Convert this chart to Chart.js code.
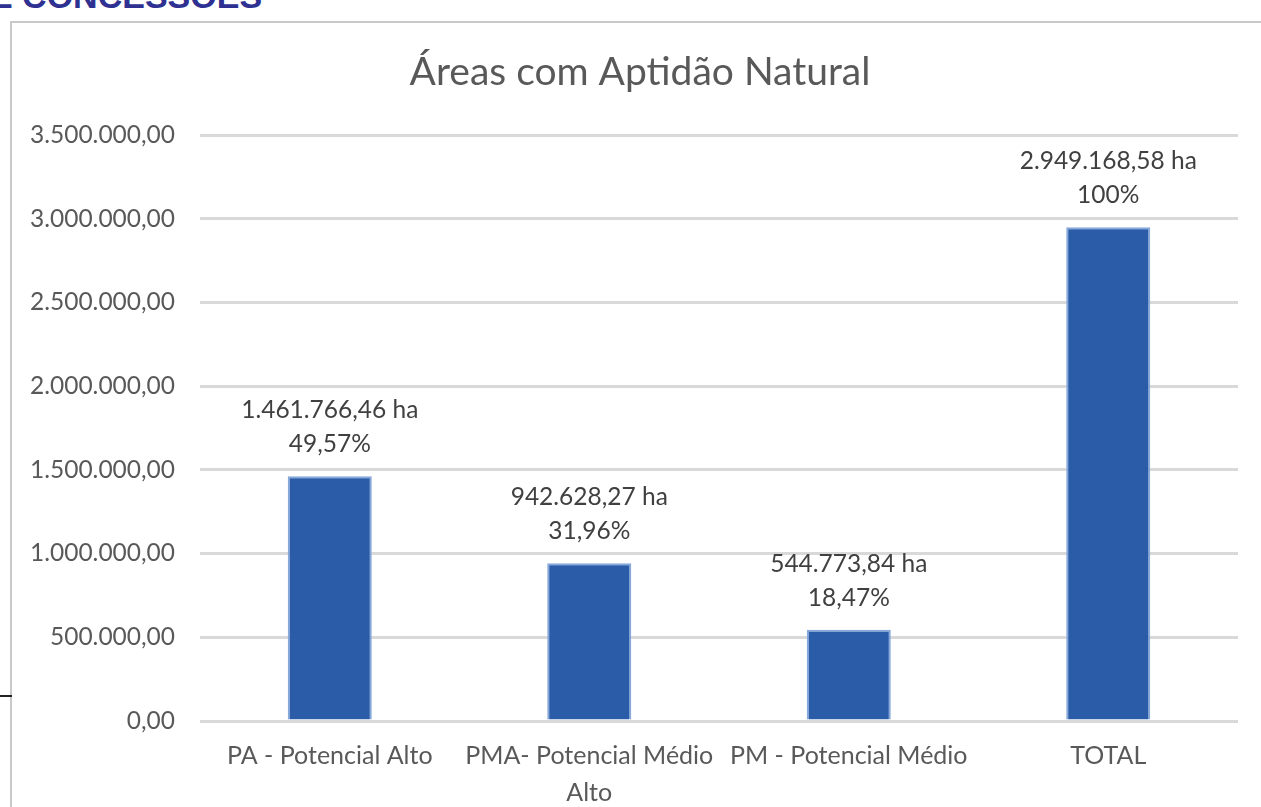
<!DOCTYPE html>
<html>
<head>
<meta charset="utf-8">
<script src="https://cdn.jsdelivr.net/npm/chart.js@4"></script>
<style>
  html, body { margin: 0; padding: 0; background: #fff; overflow: hidden; }
  #heading { position: absolute; left: -10px; top: -21px; font: bold 34px "Liberation Sans", Arial, sans-serif; line-height: 34px; color: #2e3192; white-space: nowrap; }
  #frame { position: absolute; left: 10px; top: 21px; width: 1400px; height: 900px; border-left: 2px solid #c9c9c9; border-top: 2px solid #c9c9c9; }
  #mark { position: absolute; left: 0; top: 695px; width: 12px; height: 2px; background: #222; }
  #wrap { position: absolute; left: 0; top: 0; width: 1261px; height: 807px; }
</style>
</head>
<body>
<div id="heading">E CONCESSÕES</div>
<div id="frame"></div>
<div id="mark"></div>
<div id="wrap"><canvas id="myChart" width="1261" height="807"></canvas></div>
<script>
// dados do gráfico
const categorias = ['PA - Potencial Alto', ['PMA- Potencial Médio', 'Alto'], 'PM - Potencial Médio', 'TOTAL'];
const areas = [1461766.46, 942628.27, 544773.84, 2949168.58];
const rotulosArea = ['1.461.766,46 ha', '942.628,27 ha', '544.773,84 ha', '2.949.168,58 ha'];
const rotulosPercentual = ['49,57%', '31,96%', '18,47%', '100%'];

const fonte = 'Lato, "Open Sans", sans-serif';

function formatarNumero(v) {
    const partes = v.toFixed(2).split('.');
    partes[0] = partes[0].replace(/\B(?=(\d{3})+(?!\d))/g, '.');
    return partes.join(',');
}

// rótulos de duas linhas acima das barras
const rotulosBarras = {
    id: 'rotulosBarras',
    afterLayout(chart) {
        // título centrado no quadro, não só na área útil
        if (chart.titleBlock) chart.titleBlock.left = 42;
    },
    afterDatasetsDraw(chart) {
        const ctx = chart.ctx;
        const meta = chart.getDatasetMeta(0);
        ctx.save();
        ctx.fillStyle = '#404040';
        ctx.font = '24.5px ' + fonte;
        ctx.textAlign = 'center';
        ctx.textBaseline = 'alphabetic';
        meta.data.forEach((barra, i) => {
            ctx.fillText(rotulosPercentual[i], barra.x, barra.y - 24);
            ctx.fillText(rotulosArea[i], barra.x, barra.y - 58);
        });
        ctx.restore();
    }
};

const ctx = document.getElementById('myChart').getContext('2d');
const myChart = new Chart(ctx, {
    type: 'bar',
    data: {
        labels: categorias,
        datasets: [{
            label: 'Área (ha)',
            data: areas,
            backgroundColor: '#2b5ca8',
            borderColor: '#86a9dc', // borda clara
            borderWidth: 2,
            categoryPercentage: 1,
            barPercentage: 0.324
        }]
    },
    options: {
        responsive: false,
        animation: false,
        layout: { padding: { left: 0, right: 23, top: 0, bottom: 0 } },
        plugins: {
            legend: { display: false },
            tooltip: { enabled: false },
            title: {
                display: true,
                text: 'Áreas com Aptidão Natural',
                color: '#595959',
                font: { family: fonte, size: 39, weight: 'normal', lineHeight: 1.2 },
                padding: { top: 48.6, bottom: 39.6 }
            }
        },
        scales: {
            x: {
                grid: { display: false },
                border: { display: false },
                ticks: {
                    color: '#595959',
                    font: { family: fonte, size: 25, lineHeight: 1.5 },
                    padding: 8,
                    maxRotation: 0,
                    autoSkip: false
                },
                afterFit(scale) { scale.height = 86; }
            },
            y: {
                min: 0,
                max: 3500000,
                border: { display: false },
                grid: {
                    color: '#d9d9d9',
                    lineWidth: 3,
                    drawTicks: false
                },
                ticks: {
                    stepSize: 500000,
                    color: '#595959',
                    font: { family: fonte, size: 24.5 },
                    padding: 25,
                    callback: v => formatarNumero(v)
                },
                afterFit(scale) { scale.width = 200; }
            }
        }
    },
    plugins: [rotulosBarras]
});
</script>
</body>
</html>
